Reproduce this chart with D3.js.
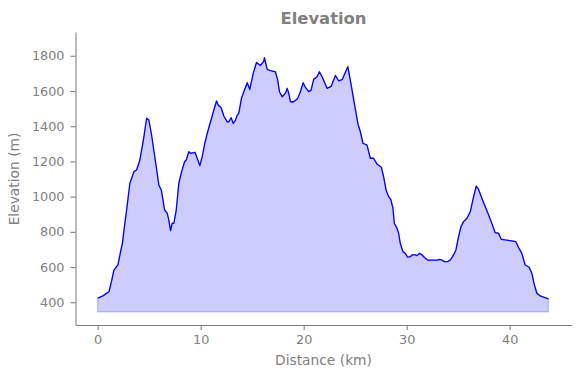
<!DOCTYPE html>
<html>
<head>
<meta charset="utf-8">
<script src="https://cdn.jsdelivr.net/npm/d3@7"></script>
<style>
  html, body { margin: 0; padding: 0; background: #fff; }
  svg { display: block; font-family: "DejaVu Sans", sans-serif; }
</style>
</head>
<body>
<div id="chart"></div>
<script>
// route profile
const distanceKm = [
  0.00, 0.55, 1.10, 1.35, 1.58, 1.97, 2.20, 2.40, 2.60, 2.81, 3.13, 3.52, 3.78, 4.10,
  4.49, 4.75, 4.97, 5.21, 5.62, 5.94, 6.18, 6.50, 6.76, 6.90, 7.08, 7.24, 7.40, 7.63,
  7.88, 8.15, 8.44, 8.60, 8.85, 9.02, 9.44, 9.67, 9.92, 10.15, 10.40, 10.64, 10.96,
  11.28, 11.54, 11.70, 11.99, 12.25, 12.58, 12.73, 12.96, 13.16, 13.38, 13.55, 13.70,
  13.96, 14.19, 14.52, 14.77, 15.10, 15.42, 15.81, 16.13, 16.19, 16.46, 16.78, 17.26,
  17.48, 17.65, 17.91, 18.23, 18.40, 18.55, 18.72, 19.04, 19.42, 19.68, 19.95, 20.17,
  20.49, 20.72, 20.97, 21.30, 21.53, 21.79, 22.27, 22.66, 23.08, 23.40, 23.73, 24.05,
  24.29, 24.55, 24.95, 25.28, 25.50, 25.76, 25.92, 26.15, 26.47, 26.79, 27.12, 27.54,
  27.76, 28.00, 28.25, 28.45, 28.67, 28.80, 29.06, 29.22, 29.38, 29.64, 29.87, 30.09,
  30.35, 30.52, 30.84, 31.00, 31.25, 31.49, 31.81, 32.03, 32.46, 32.94, 33.19, 33.43,
  33.65, 33.97, 34.23, 34.55, 34.78, 35.03, 35.27, 35.52, 35.85, 36.17, 36.49, 36.75,
  36.97, 37.30, 37.56, 37.89, 38.21, 38.59, 38.91, 39.18, 39.56, 40.05, 40.60, 40.85,
  41.18, 41.50, 41.89, 42.15, 42.40, 42.64, 42.96, 43.44, 43.76
];
const elevationM = [
  423, 438, 460, 520, 583, 612, 680, 735, 830, 924, 1076, 1142, 1151, 1208,
  1340, 1445, 1435, 1360, 1198, 1066, 1038, 924, 905, 870, 807, 849, 849, 924,
  1076, 1142, 1198, 1208, 1255, 1246, 1252, 1218, 1176, 1227, 1303, 1360, 1425,
  1492, 1543, 1520, 1505, 1458, 1425, 1425, 1448, 1416, 1435, 1463, 1473,
  1558, 1596, 1647, 1609, 1700, 1762, 1745, 1770, 1789, 1723, 1715, 1709,
  1662, 1596, 1567, 1587, 1615, 1587, 1539, 1539, 1558, 1596, 1647, 1620,
  1596, 1605, 1666, 1681, 1709, 1681, 1615, 1626, 1688, 1658, 1664, 1706,
  1738, 1655, 1520, 1410, 1370, 1303, 1299, 1293, 1218, 1218, 1185, 1167,
  1113, 1038, 1000, 985, 934, 849, 820, 792, 735, 687, 678, 656,
  659, 669, 669, 665, 678, 669, 650, 640, 640, 640, 644, 640,
  631, 631, 640, 669, 697, 772, 829, 858, 877, 914, 999, 1060,
  1042, 991, 952, 905, 858, 795, 792, 758, 754, 750, 744, 712,
  678, 612, 599, 565, 498, 451, 436, 426, 420
];
const fillBase = 345;
const xTicks = [0, 10, 20, 30, 40];
const yTicks = [400, 600, 800, 1000, 1200, 1400, 1600, 1800];

const width = 580, height = 378;
const margin = { top: 32, right: 8.5, bottom: 53, left: 75.5 };
const grey = '#808080';

const data = distanceKm.map((d, i) => ({ km: d, m: elevationM[i] }));

const svg = d3.select('#chart').append('svg')
  .attr('width', width).attr('height', height);

const x = d3.scaleLinear().domain([-2.15, 46.0]).range([margin.left, width - margin.right]);
const y = d3.scaleLinear().domain([271, 1935]).range([height - margin.bottom, margin.top]);

const area = d3.area()
  .x(d => x(d.km))
  .y0(y(fillBase))
  .y1(d => y(d.m));

svg.append('path')
  .datum(data)
  .attr('d', area)
  .attr('fill', 'blue')
  .attr('fill-opacity', 0.2)
  .attr('stroke', 'blue')
  .attr('stroke-opacity', 0.2)
  .attr('stroke-width', 1.2);

const line = d3.line().x(d => x(d.km)).y(d => y(d.m));
svg.append('path')
  .datum(data)
  .attr('d', line)
  .attr('fill', 'none')
  .attr('stroke', 'blue')
  .attr('stroke-width', 1.3)
  .attr('stroke-linejoin', 'round');

// axes
const gx = svg.append('g')
  .attr('transform', `translate(0,${height - margin.bottom})`)
  .call(d3.axisBottom(x).tickValues(xTicks).tickFormat(d3.format('d'))
    .tickSize(5).tickPadding(5).tickSizeOuter(0));
const gy = svg.append('g')
  .attr('transform', `translate(${margin.left},0)`)
  .call(d3.axisLeft(y).tickValues(yTicks).tickFormat(d3.format('d'))
    .tickSize(5).tickPadding(6).tickSizeOuter(0));

[gx, gy].forEach(g => {
  g.select('.domain').attr('stroke', grey).attr('stroke-width', 1.1);
  g.selectAll('.tick line').attr('stroke', grey).attr('stroke-width', 1.1);
  g.selectAll('.tick text')
    .attr('fill', grey)
    .style('font-family', '"DejaVu Sans", sans-serif')
    .style('font-size', '12.8px');
});

svg.append('text')
  .attr('x', (margin.left + width - margin.right) / 2)
  .attr('y', 24)
  .attr('text-anchor', 'middle')
  .attr('fill', grey)
  .style('font-size', '16.4px')
  .style('font-weight', 'bold')
  .text('Elevation');

svg.append('text')
  .attr('x', (margin.left + width - margin.right) / 2)
  .attr('y', 365)
  .attr('text-anchor', 'middle')
  .attr('fill', grey)
  .style('font-size', '13.8px')
  .text('Distance (km)');

svg.append('text')
  .attr('transform', 'translate(19,179) rotate(-90)')
  .attr('text-anchor', 'middle')
  .attr('fill', grey)
  .style('font-size', '13.8px')
  .text('Elevation (m)');
</script>
</body>
</html>
